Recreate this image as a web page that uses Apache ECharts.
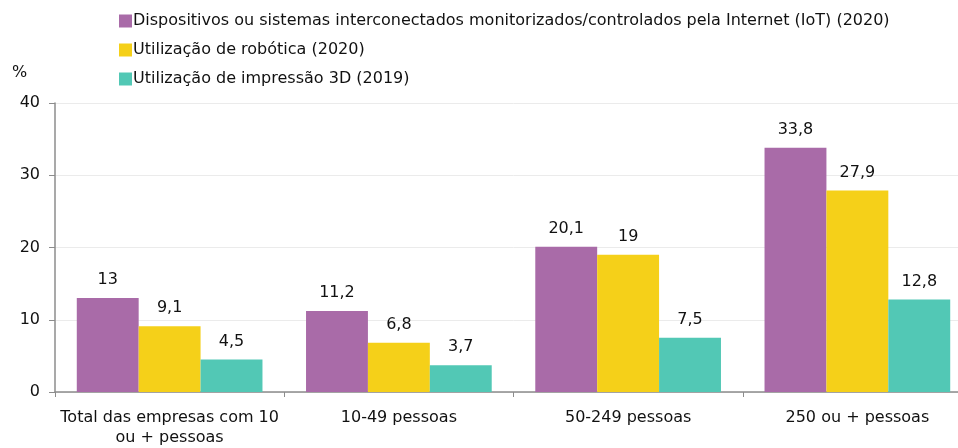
<!DOCTYPE html>
<html>
  <head>
    <meta charset="utf-8" />
  </head>
  <body style="margin:0;overflow:hidden">
  <!-- o gráfico original é cortado à direita, por isso a div é mais larga que a janela -->
  <div id="main" style="width: 972px;height:448px;"></div>
  <script type="text/javascript" src="https://cdn.jsdelivr.net/npm/echarts@6/dist/echarts.min.js"></script>
  <script type="text/javascript">
      // dados
      var categorias = ['Total das empresas com 10\nou + pessoas', '10-49 pessoas', '50-249 pessoas', '250 ou + pessoas'];
      var nomesSeries = [
        'Dispositivos ou sistemas interconectados monitorizados/controlados pela Internet (IoT) (2020)',
        'Utilização de robótica (2020)',
        'Utilização de impressão 3D (2019)'
      ];
      var iot = [13, 11.2, 20.1, 33.8];
      var robotica = [9.1, 6.8, 19, 27.9];
      var impressao3d = [4.5, 3.7, 7.5, 12.8];
      var ticksY = [0, 10, 20, 30, 40];

      var cores = ['#A96BA8', '#F5D019', '#52C8B5'];
      var fonte = 'DejaVu Sans';

      var myChart = echarts.init(document.getElementById('main'));

      function serie(nome, dados, cor) {
        return {
          name: nome,
          type: 'bar',
          data: dados,
          barGap: '0%',
          barCategoryGap: '19%',
          itemStyle: { color: cor },
          label: {
            show: true,
            position: 'top',
            distance: 10,
            color: '#111',
            fontSize: 16,
            fontFamily: fonte,
            formatter: function (p) { return String(p.value).replace('.', ','); }
          }
        };
      }

      var option = {
        animation: false,
        textStyle: { fontFamily: fonte },
        legend: {
          orient: 'vertical',
          left: 114,
          top: 8,
          itemWidth: 13,
          itemHeight: 13,
          itemGap: 13,
          icon: 'rect',
          textStyle: { fontSize: 16, color: '#111', fontFamily: fonte, padding: [0, 0, 0, -4] },
          data: nomesSeries
        },
        graphic: [{
          type: 'text', left: 12, top: 65,
          style: { text: '%', fontSize: 16, fill: '#111', fontFamily: fonte }
        }],
        grid: { left: 55, right: 0, top: 103, bottom: 55, containLabel: false },
        xAxis: {
          type: 'category',
          data: categorias,
          axisLine: { lineStyle: { color: '#8c8c8c', width: 1.5 } },
          axisTick: { show: true, length: 5, lineStyle: { color: '#8c8c8c' } },
          axisLabel: { color: '#111', fontSize: 16, fontFamily: fonte, margin: 16, lineHeight: 20, interval: 0 }
        },
        yAxis: {
          type: 'value',
          min: ticksY[0],
          max: ticksY[ticksY.length - 1],
          interval: 10,
          axisLine: { show: true, lineStyle: { color: '#8c8c8c', width: 1.5 } },
          axisTick: { show: true, length: 6, lineStyle: { color: '#8c8c8c' } },
          axisLabel: { color: '#111', fontSize: 16, fontFamily: fonte, margin: 15 },
          splitLine: { lineStyle: { color: '#ebebeb' } }
        },
        series: [
          serie(nomesSeries[0], iot, cores[0]),
          serie(nomesSeries[1], robotica, cores[1]),
          serie(nomesSeries[2], impressao3d, cores[2])
        ]
      };

      myChart.setOption(option);
  </script>
</body>
</html>
